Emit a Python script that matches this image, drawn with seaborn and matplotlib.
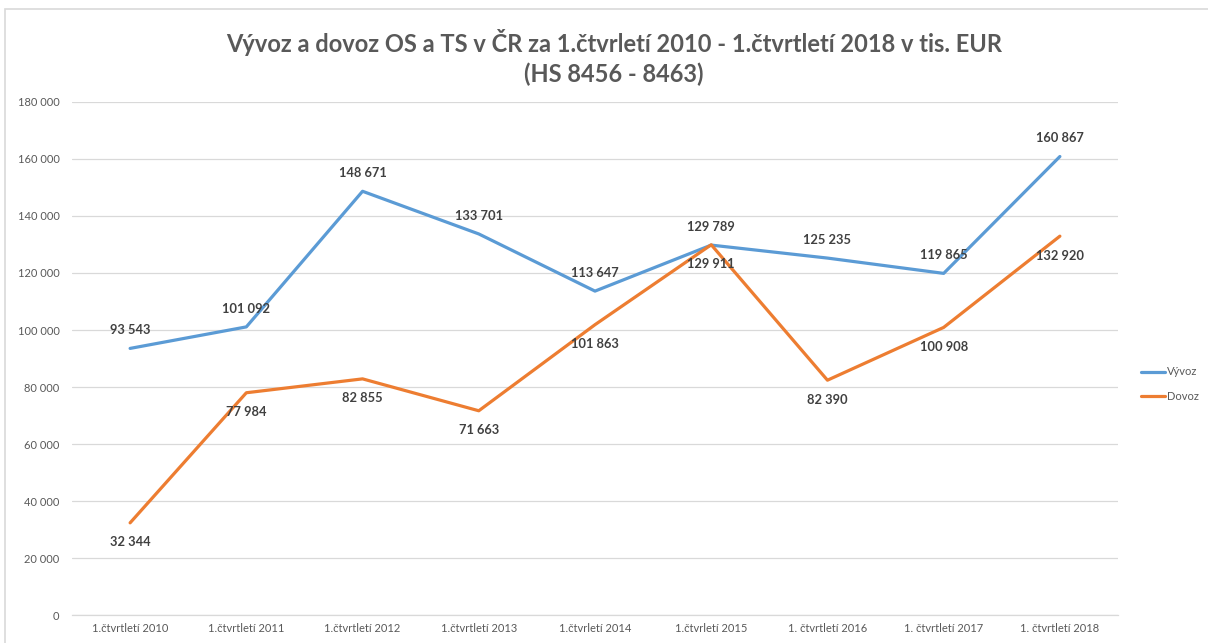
import pandas as pd
import matplotlib.pyplot as plt
import matplotlib.patches as mpatches
import seaborn as sns

categories = ["1.čtvrtletí 2010", "1.čtvrtletí 2011", "1.čtvrtletí 2012", "1.čtvrtletí 2013",
              "1.čtvrletí 2014", "1.čtvrletí 2015", "1. čtvrtletí 2016", "1. čtvrtletí 2017",
              "1. čtvrtletí 2018"]
vyvoz = [93543, 101092, 148671, 133701, 113647, 129789, 125235, 119865, 160867]
dovoz = [32344, 77984, 82855, 71663, 101863, 129911, 82390, 100908, 132920]
yticks = list(range(0, 180001, 20000))

BLUE = "#5B9BD5"
ORANGE = "#ED7D31"
GRAY = "#595959"

def fmt(v):
    return f"{v:,}".replace(",", " ")

sns.set_style("white")
plt.rcParams['font.family'] = ['Lato', 'DejaVu Sans']

df = pd.DataFrame({"kategorie": categories * 2,
                   "hodnota": vyvoz + dovoz,
                   "serie": ["Vývoz"] * len(vyvoz) + ["Dovoz"] * len(dovoz)})

fig = plt.figure(figsize=(12.08, 6.43), dpi=100)
ax = fig.add_axes([0.0596, 0.0435, 0.8659, 0.7979])

sns.lineplot(data=df, x="kategorie", y="hodnota", hue="serie", sort=False,
             palette={"Vývoz": BLUE, "Dovoz": ORANGE}, linewidth=2.3, ax=ax)

for i, (a, b) in enumerate(zip(vyvoz, dovoz)):
    ax.annotate(fmt(a), (i, a), xytext=(0, 13), textcoords="offset points",
                ha="center", va="center", fontsize=9.3, fontweight="bold", color="#404040")
    ax.annotate(fmt(b), (i, b), xytext=(0, -14), textcoords="offset points",
                ha="center", va="center", fontsize=9.3, fontweight="bold", color="#404040")

ax.set_xlim(-0.5, len(categories) - 0.5)
ax.set_ylim(0, 180000)
ax.set_yticks(yticks)
ax.set_yticklabels([fmt(t) for t in yticks])
ax.set_xlabel("")
ax.set_ylabel("")
ax.grid(axis="y", color="#D9D9D9", linewidth=0.9)
ax.set_axisbelow(True)
for s in ["top", "right", "left"]:
    ax.spines[s].set_visible(False)
ax.spines["bottom"].set_color("#D9D9D9")
ax.spines["bottom"].set_linewidth(0.9)
ax.tick_params(axis="both", length=0, labelsize=8, colors=GRAY)
ax.tick_params(axis="y", pad=9)
ax.tick_params(axis="x", pad=6)

leg = ax.legend(loc="center left", bbox_to_anchor=(1.012, 0.45), frameon=False,
                fontsize=8, handlelength=2.2, handletextpad=0.15, labelspacing=1.2)
for t in leg.get_texts():
    t.set_color(GRAY)

fig.suptitle("Vývoz a dovoz OS a TS v ČR za 1.čtvrletí 2010 - 1.čtvrtletí 2018 v tis. EUR\n(HS 8456 - 8463)",
             x=0.508, y=0.955, fontsize=17, fontweight="bold", color=GRAY, linespacing=1.35)

fig.patches.append(mpatches.Rectangle((5 / 1208, -0.1), 1.2, 1 - 9 / 643 + 0.1,
                                      transform=fig.transFigure, fill=False,
                                      edgecolor="#D9D9D9", linewidth=1.2))

fig.savefig("out.png", dpi=100)
